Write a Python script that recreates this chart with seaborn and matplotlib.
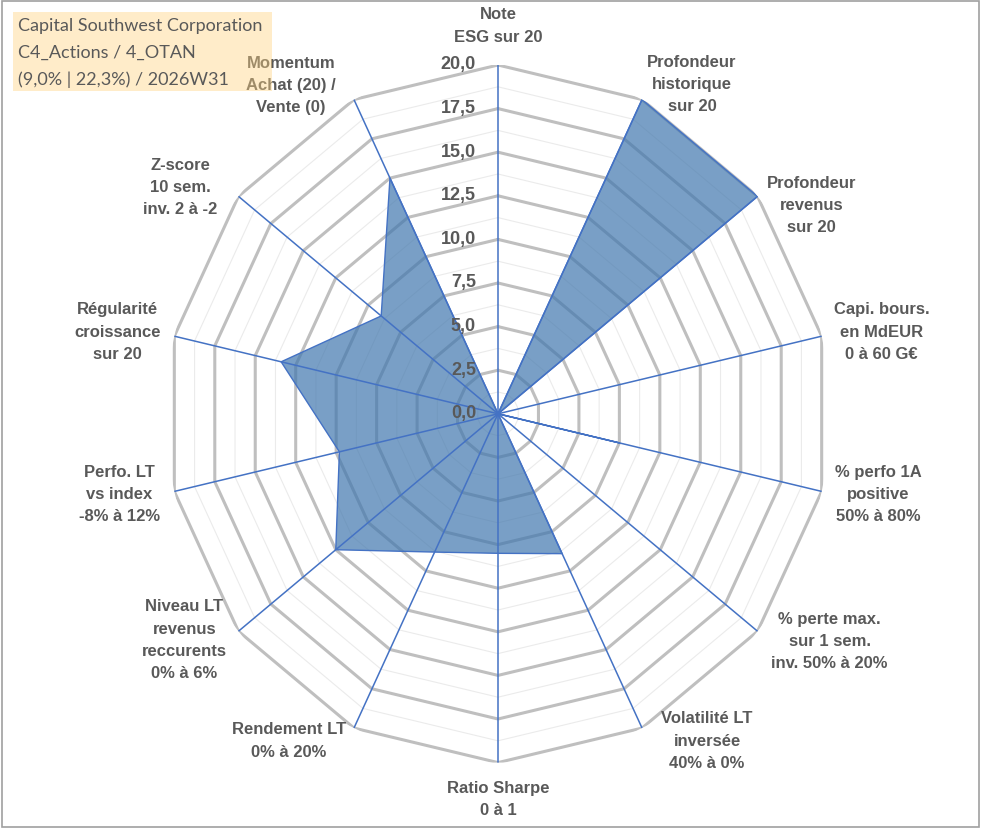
import numpy as np
import pandas as pd
import matplotlib
matplotlib.use("Agg")
import matplotlib.pyplot as plt
from matplotlib.patches import Rectangle
import seaborn as sns

# ---------------- data ----------------
axis_labels = [
    "Note\nESG sur 20",
    "Profondeur\nhistorique\nsur 20",
    "Profondeur\nrevenus\nsur 20",
    "Capi. bours.\nen MdEUR\n0 à 60 G€",
    "% perfo 1A\npositive\n50% à 80%",
    "% perte max.\nsur 1 sem.\ninv. 50% à 20%",
    "Volatilité LT\ninversée\n40% à 0%",
    "Ratio Sharpe\n0 à 1",
    "Rendement LT\n0% à 20%",
    "Niveau LT\nrevenus\nreccurents\n0% à 6%",
    "Perfo. LT\nvs index\n-8% à 12%",
    "Régularité\ncroissance\nsur 20",
    "Z-score\n10 sem.\ninv. 2 à -2",
    "Momentum\nAchat (20) /\nVente (0)",
]
scores = [0.0, 20.0, 20.0, 0.0, 7.5, 0.0, 8.9, 8.0, 8.8, 12.5, 9.8, 13.4, 9.0, 15.0]
major_levels = [2.5, 5.0, 7.5, 10.0, 12.5, 15.0, 17.5, 20.0]
minor_levels = [1.25, 3.75, 6.25, 8.75, 11.25, 13.75, 16.25, 18.75]
tick_values = [0.0, 2.5, 5.0, 7.5, 10.0, 12.5, 15.0, 17.5, 20.0]
title_lines = ["Capital Southwest Corporation", "C4_Actions / 4_OTAN", "(9,0% | 22,3%) / 2026W31"]

# label offsets (pixels) from the outer vertex of each axis
label_offsets = [(0, 39), (50, 15), (54, -9), (60, 4), (57, -3), (72, -10), (65, -13),
                 (0, -37), (-65, -13), (-54, -9), (-55, -3), (-57, 4), (-58, 9), (-63, 14)]

# ---------------- style ----------------
sns.set_theme(style="white")
plt.rcParams["font.family"] = ["Liberation Sans", "DejaVu Sans"]

W, H = 991, 830
fig = plt.figure(figsize=(W / 100, H / 100), dpi=100)
fig.patch.set_facecolor("white")

cx, cy, rx, ry = 498, 413.8, 332, 348.8
ax = fig.add_axes([(cx - rx) / W, (H - cy - ry) / H, 2 * rx / W, 2 * ry / H], projection="polar")
ax.set_aspect("auto")
ax.set_theta_zero_location("N")
ax.set_theta_direction(-1)
ax.set_ylim(0, 20)
ax.grid(False)
ax.spines["polar"].set_visible(False)
ax.patch.set_alpha(0)

n = len(axis_labels)
theta = np.arange(n) * 2 * np.pi / n
theta_closed = np.append(theta, theta[0])

# grid polygons
for lv in minor_levels:
    ax.plot(theta_closed, [lv] * (n + 1), color="#EBEBEB", lw=0.8, zorder=1)
for lv in major_levels:
    ax.plot(theta_closed, [lv] * (n + 1), color="#BFBFBF", lw=2.2, zorder=2,
            solid_joinstyle="miter")

# data polygon
vals_closed = np.append(scores, scores[0])
ax.fill(theta_closed, vals_closed, color="#4177AE", alpha=0.7, zorder=3, lw=0)
df = pd.DataFrame({"theta": theta_closed, "score": vals_closed})
sns.lineplot(data=df, x="theta", y="score", sort=False, ax=ax, color="#4472C4",
             lw=1.0, zorder=4, estimator=None)
ax.set_xlabel("")
ax.set_ylabel("")
ax.set_xticks([])
ax.set_yticks([])

# spokes
for t in theta:
    ax.plot([t, t], [0, 20], color="#4472C4", lw=1.1, zorder=5)

# tick labels
for v in tick_values:
    ax.annotate(f"{v:.1f}".replace(".", ","), xy=(0, v), xytext=(-22, 0),
                textcoords="offset pixels", ha="right", va="center",
                fontsize=13, fontweight="bold", color="#595959", zorder=6)

# axis labels
for t, lab, off in zip(theta, axis_labels, label_offsets):
    ax.annotate(lab, xy=(t, 20), xytext=off, textcoords="offset pixels",
                ha="center", va="center", multialignment="center",
                fontsize=12, fontweight="bold", color="#595959", linespacing=1.6,
                annotation_clip=False, zorder=6)

# title box
fig.patches.append(Rectangle((12.5 / W, 1 - 91 / H), (272 - 12.5) / W, (91 - 12) / H,
                             transform=fig.transFigure, facecolor="#FFD27F", alpha=0.42,
                             edgecolor="none", zorder=10))
for i, line in enumerate(title_lines):
    fig.text(18 / W, 1 - (26 + 27 * i) / H, line, ha="left", va="center",
             fontsize=13, color="#595959", family=["Lato", "DejaVu Sans"], zorder=11)

# chart border
fig.patches.append(Rectangle((1.5 / W, 1 - 827 / H), (979 - 1.5) / W, (827 - 1.5) / H,
                             transform=fig.transFigure, facecolor="none",
                             edgecolor="#A0A0A0", lw=1.2, zorder=12))

fig.savefig("out.png", dpi=100)
